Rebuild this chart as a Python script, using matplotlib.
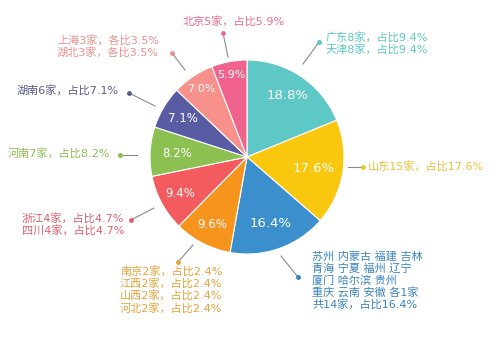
import matplotlib
matplotlib.use('Agg')
import matplotlib.pyplot as plt
import numpy as np

plt.rcParams['font.family'] = ['DejaVu Sans', 'Noto Sans CJK SC']

# slice data (clockwise from 12 o'clock)
shares = [18.8, 17.6, 16.4, 9.6, 9.4, 8.2, 7.1, 7.0, 5.9]
colors = ['#5ec8c6', '#f9c80e', '#3b8fcd', '#f7941d', '#f45b5e',
          '#8cc152', '#5a5ca3', '#f8908b', '#f0638e']
text_colors = ['#5ec8c6', '#e8c33a', '#3b85bd', '#e8a23a', '#e0606a',
               '#8cbc52', '#5a5c8a', '#ec8f8f', '#ec6a90']
labels = [
    '广东8家，占比9.4%\n天津8家，占比9.4%',
    '山东15家，占比17.6%',
    '苏州 内蒙古 福建 吉林\n青海 宁夏 福州 辽宁\n厦门 哈尔滨 贵州\n重庆 云南 安徽 各1家\n共14家，占比16.4%',
    '南京2家，占比2.4%\n江西2家，占比2.4%\n山西2家，占比2.4%\n河北2家，占比2.4%',
    '浙江4家，占比4.7%\n四川4家，占比4.7%',
    '河南7家，占比8.2%',
    '湖南6家，占比7.1%',
    '上海3家，各比3.5%\n湖北3家，各比3.5%',
    '北京5家，占比5.9%',
]

W, H = 500, 342
fig = plt.figure(figsize=(5, 3.42), dpi=100)
ax = fig.add_axes([0, 0, 1, 1])

cx, cy, r = 247, H - 157, 97
wedges, texts, autotexts = ax.pie(
    shares, colors=colors, startangle=90, counterclock=False,
    center=(cx, cy), radius=r, autopct='%.1f%%',
    wedgeprops=dict(edgecolor='white', linewidth=0.8),
    textprops=dict(color='white', fontsize=9.5))
ax.set_xlim(0, W)
ax.set_ylim(0, H)
ax.set_aspect('equal')
ax.axis('off')

# percentage label distance (fraction of radius) and size per slice
pct_dist = [0.76, 0.70, 0.73, 0.78, 0.78, 0.72, 0.77, 0.84, 0.86]
pct_size = [9.5, 9.5, 9.5, 8.5, 8.5, 8.5, 8.5, 8, 8]
for w, t, d, s in zip(wedges, autotexts, pct_dist, pct_size):
    ang = np.deg2rad((w.theta1 + w.theta2) / 2)
    t.set_position((cx + d * r * np.cos(ang), cy + d * r * np.sin(ang)))
    t.set_fontsize(s)

# label layout: text anchor (x, y top), leader line (x0, y0) -> dot (x1, y1)
layout = [
    ((326, 32), (303, 64), (319, 42)),
    ((368, 161), (348, 167), (363, 167)),
    ((312, 251), (281, 256), (298, 277)),
    ((120, 266), (193, 245), (178, 262)),
    ((22, 213), (154, 208), (131, 220)),
    ((8, 148), (137, 155), (120, 155)),
    ((17, 85), (155, 106), (129, 93)),
    ((57, 35), (185, 70), (172, 53)),
    ((183, 16), (228, 57), (223, 33)),
]

for lab, tc, ((tx, ty), (x0, y0), (x1, y1)) in zip(labels, text_colors, layout):
    ax.text(tx, H - ty, lab, color=tc, fontsize=8, ha='left', va='top',
            linespacing=1.15)
    ax.plot([x0, x1], [H - y0, H - y1], color='#8a8a8a', lw=0.8)
    ax.plot(x1, H - y1, 'o', color=tc, ms=2.5)

fig.savefig('out.png', dpi=100, facecolor='white')
